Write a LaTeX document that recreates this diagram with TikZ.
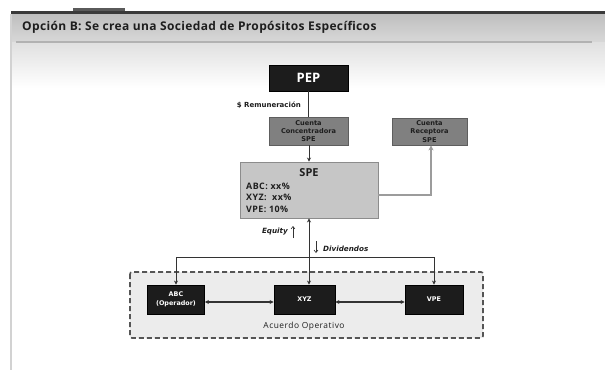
\documentclass[tikz,border=0pt]{standalone}
\usepackage{fontspec}
\setmainfont{Open Sans}
\newfontfamily\smallfont{DejaVu Sans}
\usetikzlibrary{arrows.meta}
\definecolor{topbar}{HTML}{3A3A3A}
\definecolor{tabgray}{HTML}{5A5A5A}
\definecolor{hdrtop}{HTML}{BEBEBE}
\definecolor{hdrbot}{HTML}{D8D8D8}
\definecolor{hdrline}{HTML}{B2B2B2}
\definecolor{fadetop}{HTML}{E0E0E0}
\definecolor{edgegray}{HTML}{D2D2D2}
\definecolor{darkbox}{HTML}{1C1C1C}
\definecolor{midbox}{HTML}{808080}
\definecolor{midborder}{HTML}{5E5E5E}
\definecolor{spefill}{HTML}{C6C6C6}
\definecolor{speborder}{HTML}{8C8C8C}
\definecolor{areafill}{HTML}{ECECEC}
\definecolor{areaborder}{HTML}{555555}
\definecolor{lineclr}{HTML}{333333}
\definecolor{glineclr}{HTML}{9C9C9C}
\definecolor{txtdark}{HTML}{1E1E1E}
\newcommand{\trk}[1]{\addfontfeatures{LetterSpace=#1}}
\begin{document}
\begin{tikzpicture}[x=1pt,y=-1pt,
  darknode/.style={draw=black, fill=darkbox, text=white, inner sep=0pt, align=center},
  midnode/.style={draw=midborder, line width=0.8pt, fill=midbox, text=txtdark, inner sep=0pt, align=center,
     font=\smallfont\fontsize{6.6}{8.2}\selectfont\bfseries},
  opnode/.style={draw=black, line width=0.8pt, fill=darkbox, text=white, inner sep=0pt, align=center,
     minimum height=29pt, font=\smallfont\fontsize{6.4}{9}\selectfont\bfseries},
  conn/.style={draw=lineclr, line width=0.9pt},
  tip/.style={-{Stealth[length=4pt,width=4pt]}},
  dtip/.style={{Stealth[length=4pt,width=4pt]}-{Stealth[length=4pt,width=4pt]}},
  lbl/.style={text=txtdark, inner sep=0pt}
]
\useasboundingbox (0,0) rectangle (605,378);
% slide frame
\fill[white] (0,0) rectangle (605,378);
\shade[top color=hdrtop, bottom color=hdrbot] (11,13) rectangle (605,42);
\shade[top color=fadetop, bottom color=white] (11,42) rectangle (605,88);
\draw[hdrline, line width=1.5pt] (16,42) -- (592,42);
\fill[tabgray] (73,8) rectangle (125,12);
\draw[topbar, line width=3pt] (11,12.5) -- (605,12.5);
\draw[edgegray, line width=1.5pt] (11,14) -- (11,370);
\node[anchor=west, text=txtdark, font=\fontsize{12}{14}\selectfont\bfseries\trk{3}, inner sep=0pt] (title) at (22,27)
  {Opción B: Se crea una Sociedad de Propósitos Específicos};

% operating agreement area
\draw[areaborder, fill=areafill, line width=1.6pt, dash pattern=on 5pt off 3pt, rounded corners=2pt]
  (130,272) rectangle (483,338);

% nodes
\node[darknode, minimum width=79pt, minimum height=26pt, font=\fontsize{13}{15}\selectfont\bfseries] (pep) at (308.5,78) {PEP};
\node[midnode, minimum width=79pt, minimum height=28pt] (conc) at (308.5,131) {Cuenta\\Concentradora\\SPE};
\node[midnode, minimum width=75pt, minimum height=27pt] (rec) at (429.5,131.5) {Cuenta\\Receptora\\SPE};
\node[draw=speborder, line width=0.9pt, fill=spefill, minimum width=138pt, minimum height=56pt, inner sep=0pt] (spe) at (309,190) {};
\node[lbl, font=\fontsize{11}{13}\selectfont\bfseries] (spet) at (309,172.5) {SPE};
\node[lbl, anchor=west, align=left, font=\fontsize{8.9}{11.5}\selectfont\bfseries\trk{5}] (spel) at (246,197.5)
  {ABC: xx\%\\XYZ:\ \ xx\%\\VPE: 10\%};
\node[opnode, minimum width=57pt] (abc) at (176,299.5) {ABC\\(Operador)};
\node[opnode, minimum width=61pt] (xyz) at (304.5,299.5) {XYZ};
\node[opnode, minimum width=58pt] (vpe) at (434,299.5) {VPE};

% labels
\node[lbl, anchor=east, font=\smallfont\fontsize{7}{9}\selectfont\bfseries] (rem) at (301,105) {\$ Remuneración};
\node[lbl, anchor=east, font=\smallfont\fontsize{7.2}{8}\selectfont\bfseries\itshape] (eq) at (288,232) {Equity};
\node[lbl, anchor=west, font=\smallfont\fontsize{7.2}{8}\selectfont\bfseries\itshape] (div) at (323,248.5) {Dividendos};
\node[lbl, font=\fontsize{8.4}{9}\selectfont\trk{6}] (acu) at (304,326.5) {Acuerdo Operativo};
\coordinate (equp1) at (293,238);
\coordinate (equp2) at (293,226);
\coordinate (divd1) at (316,241);
\coordinate (divd2) at (316,253);
\draw[lineclr, line width=0.6pt, -{Straight Barb[length=2.5pt,width=4pt]}] (equp1) -- (equp2);
\draw[lineclr, line width=0.6pt, -{Straight Barb[length=2.5pt,width=4pt]}] (divd1) -- (divd2);

% connectors
\draw[conn] (pep.south -| conc.north) -- (conc.north);
\draw[conn, tip] (conc.south -| spe.north) -- (spe.north);
\draw[glineclr, line width=1.6pt, -{Stealth[length=5pt,width=5pt]}] ([yshift=-5pt]spe.east) -| ([xshift=1.5pt]rec.south);
\draw[conn, dtip] (spe.south) -- (spe.south |- xyz.north);
\coordinate (junc) at (spe.south |- 0,257);
\draw[conn, tip] (junc) -| (abc.north);
\draw[conn, tip] (junc) -| (vpe.north);
\draw[conn, line width=1.3pt, dtip] ([yshift=-2.5pt]abc.east) -- ([yshift=-2.5pt]abc.east -| xyz.west);
\draw[conn, line width=1.3pt, dtip] ([yshift=-2.5pt]xyz.east) -- ([yshift=-2.5pt]xyz.east -| vpe.west);
\end{tikzpicture}
\end{document}
